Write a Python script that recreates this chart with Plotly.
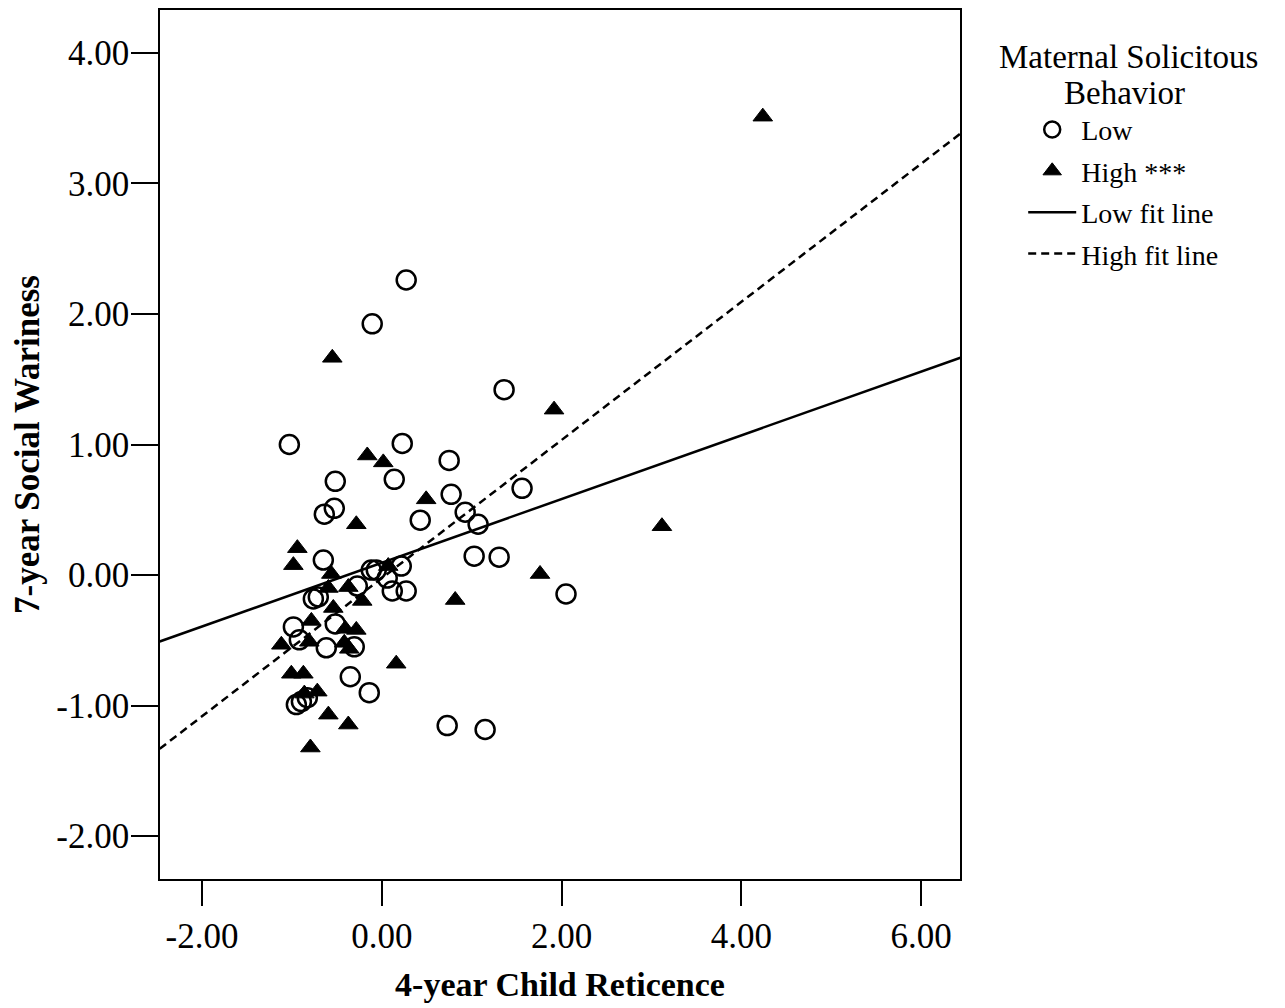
import plotly.graph_objects as go

# ---------------- data ----------------
low_x = [0.272, -0.106, 1.361, -1.028, 0.228, 0.750, -0.517, 0.139, 0.772, 1.561,
         -0.528, -0.639, 0.428, 0.928, 1.072, -0.650, 1.028, 1.306, 2.050, -0.117,
         -0.061, 0.217, 0.061, 0.117, 0.272, -0.272, -0.761, -0.706, -0.983, -0.917,
         -0.617, -0.517, -0.306, -0.350, -0.139, -0.950, -0.894, -0.828, 0.728, 1.150]
low_y = [2.260, 1.924, 1.420, 1.000, 1.008, 0.878, 0.718, 0.733, 0.618, 0.664,
         0.511, 0.466, 0.420, 0.481, 0.389, 0.115, 0.145, 0.137, -0.145, 0.038,
         0.038, 0.069, -0.023, -0.122, -0.122, -0.084, -0.183, -0.168, -0.397, -0.496,
         -0.557, -0.374, -0.550, -0.779, -0.901, -0.992, -0.969, -0.939, -1.153, -1.183]

high_x = [4.239, -0.550, 1.917, -0.161, 0.017, 0.494, 3.117, -0.283, -0.939, -0.983,
          -0.561, 0.072, 1.761, -0.594, -0.372, -0.217, -0.539, 0.817, -0.783, -1.117,
          -0.806, -0.406, -0.283, -0.417, -0.361, -1.006, -0.872, -0.717, -0.861, -0.594,
          -0.372, -0.794, 0.161]
high_y = [3.511, 1.664, 1.267, 0.916, 0.863, 0.580, 0.374, 0.389, 0.206, 0.076,
          0.008, 0.069, 0.008, -0.099, -0.092, -0.198, -0.252, -0.191, -0.351, -0.534,
          -0.511, -0.412, -0.420, -0.519, -0.565, -0.756, -0.756, -0.893, -0.908, -1.069,
          -1.145, -1.321, -0.679]

# fit lines (intercept, slope)
low_fit_intercept, low_fit_slope = 0.094, 0.244
high_fit_intercept, high_fit_slope = -0.024, 0.529
fit_x = [-2.47, 6.44]

x_tick_vals = [-2, 0, 2, 4, 6]
x_tick_text = ["-2.00", "0.00", "2.00", "4.00", "6.00"]
y_tick_vals = [-2, -1, 0, 1, 2, 3, 4]
y_tick_text = ["-2.00", "-1.00", "0.00", "1.00", "2.00", "3.00", "4.00"]

x_range = [-2.467, 6.433]
y_range = [-2.328, 4.328]

legend_title_lines = ["Maternal Solicitous", "Behavior"]

# ---------------- figure ----------------
FONT = "Liberation Serif, Times New Roman, serif"

low_fit_y = [low_fit_intercept + low_fit_slope * v for v in fit_x]
high_fit_y = [high_fit_intercept + high_fit_slope * v for v in fit_x]

fig = go.Figure()

fig.add_trace(go.Scatter(
    x=low_x, y=low_y, mode="markers", name="Low", legendgroup="a",
    marker=dict(symbol="circle-open", size=19, color="black", line=dict(width=2.5, color="black")),
))
fig.add_trace(go.Scatter(
    x=high_x, y=high_y, mode="markers", name="High ***", legendgroup="b",
    marker=dict(symbol="triangle-up", size=17, color="black", line=dict(width=1, color="black")),
))
fig.add_trace(go.Scatter(
    x=fit_x, y=low_fit_y, mode="lines", name="Low fit line", legendgroup="c",
    line=dict(color="black", width=2.5),
))
fig.add_trace(go.Scatter(
    x=fit_x, y=high_fit_y, mode="lines", name="High fit line", legendgroup="d",
    line=dict(color="black", width=2.5, dash="8px,5px"),
))

axis_common = dict(
    showgrid=False, zeroline=False, showline=True, mirror=True,
    linecolor="black", linewidth=1.5,
    ticks="outside", tickcolor="black", tickwidth=2,
    tickfont=dict(family=FONT, size=35, color="black"),
)

fig.update_xaxes(
    range=x_range, tickvals=x_tick_vals, ticktext=x_tick_text, ticklen=25,
    title=dict(text="<b>4-year Child Reticence</b>",
               font=dict(family=FONT, size=34, color="black"), standoff=17),
    **axis_common,
)
fig.update_yaxes(
    range=y_range, tickvals=y_tick_vals, ticktext=y_tick_text, ticklen=27,
    ticklabelstandoff=-5,
    title=dict(text="<b>7-year Social Wariness</b>",
               font=dict(family=FONT, size=35, color="black"), standoff=20),
    **axis_common,
)

# legend title drawn as two centred lines
title_pos = [(1.210, 0.946), (1.206, 0.904)]
for txt, (ax, ay) in zip(legend_title_lines, title_pos):
    fig.add_annotation(
        text=txt, xref="paper", yref="paper", x=ax, y=ay,
        xanchor="center", yanchor="middle", showarrow=False,
        font=dict(family=FONT, size=33, color="black"),
    )

fig.update_layout(
    width=1277, height=1000,
    margin=dict(l=152, r=325, t=0, b=129),
    paper_bgcolor="white", plot_bgcolor="white",
    font=dict(family=FONT, color="black"),
    legend=dict(
        x=1.079, y=0.891, xanchor="left", yanchor="top",
        font=dict(family=FONT, size=28, color="black"),
        tracegroupgap=2, itemwidth=48,
        bgcolor="rgba(0,0,0,0)", borderwidth=0,
    ),
)

fig.write_html("out.html")
